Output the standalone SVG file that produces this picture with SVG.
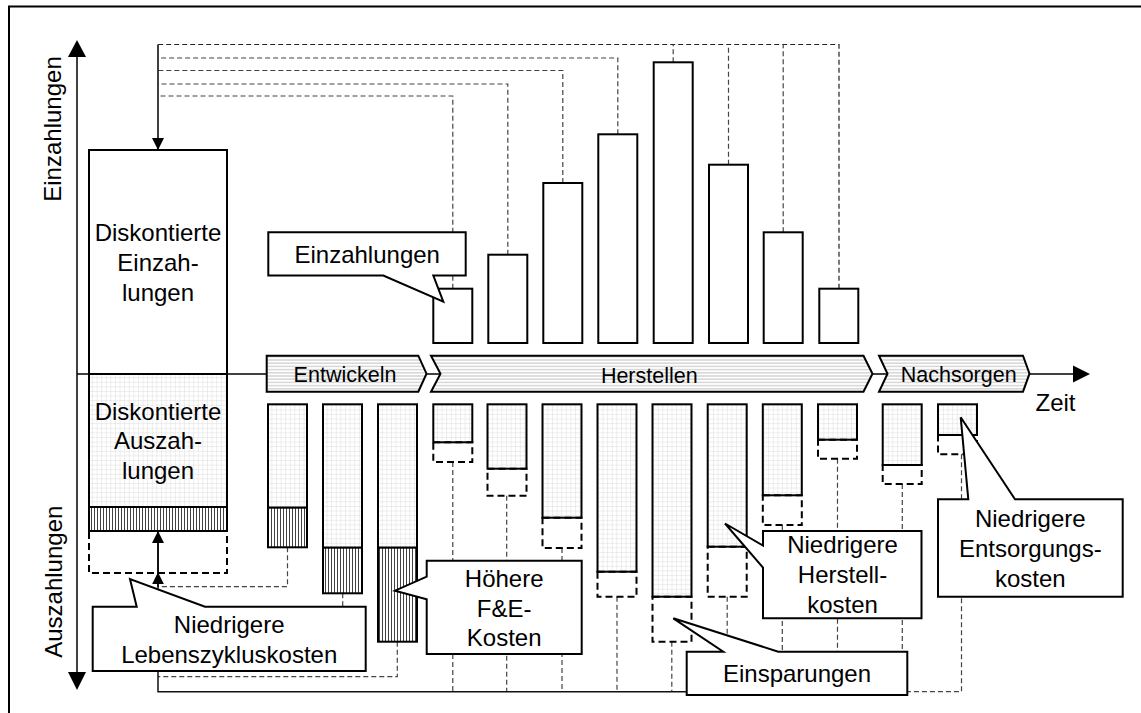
<svg xmlns="http://www.w3.org/2000/svg" width="1141" height="713" viewBox="0 0 1141 713">
  <style>
    text { font-family: "Liberation Sans", Arial, sans-serif; font-size: 24px; fill: #000; text-anchor: middle; }
    .phase { font-size: 21.5px; }
    .bar { fill: #fff; stroke: #000; stroke-width: 2; }
    .grid { fill: url(#grid); stroke: #000; stroke-width: 2; }
    .hatch { fill: url(#hatch); stroke: #000; stroke-width: 2; }
    .save { fill: none; stroke: #000; stroke-width: 2; stroke-dasharray: 7 4; }
    .link { fill: none; stroke: #444; stroke-width: 1.2; stroke-dasharray: 5 3; }
    .callout { fill: #fff; stroke: #000; stroke-width: 2; stroke-linejoin: miter; }
    .chev { fill: url(#stripes); stroke: #000; stroke-width: 2; }
    .axis { fill: none; stroke: #000; stroke-width: 1.5; }
  </style>
  <defs>
    <pattern id="grid" width="4.6" height="4.6" patternUnits="userSpaceOnUse">
      <rect width="4.6" height="4.6" fill="#fff"/>
      <path d="M0 0.3H4.6M0.3 0V4.6" stroke="#dcdcdc" stroke-width="0.6"/>
    </pattern>
    <pattern id="hatch" width="3" height="3" patternUnits="userSpaceOnUse">
      <rect width="3" height="3" fill="#fff"/>
      <path d="M1.5 0V3" stroke="#111" stroke-width="0.8"/>
    </pattern>
    <pattern id="stripes" width="4" height="3.2" patternUnits="userSpaceOnUse">
      <rect width="4" height="3.2" fill="#fff"/>
      <path d="M0 1.6H4" stroke="#9a9a9a" stroke-width="0.7"/>
    </pattern>
    <marker id="tipS" viewBox="0 0 12 12" refX="12" refY="6" markerWidth="12" markerHeight="12" markerUnits="userSpaceOnUse" orient="auto">
      <path d="M0 0L12 6L0 12z" fill="#000"/>
    </marker>
  </defs>

  <!-- frame -->
  <path d="M9 713V6.5H1141" fill="none" stroke="#000" stroke-width="2"/>

  <!-- connectors -->
  <g id="connectors">
    <!-- payments gathered into the discounted inflow -->
    <path class="link" d="M452.8 288.7V96H158"/>
    <path class="link" d="M507.8 254.7V84H158"/>
    <path class="link" d="M562.8 183V70.5H158"/>
    <path class="link" d="M617.8 134.3V58H158"/>
    <path class="link" style="stroke:#222" d="M839 288.7V44.5H158"/>
    <path class="link" d="M673.2 62.3V44.5"/>
    <path class="link" d="M728.5 164.7V44.5"/>
    <path class="link" d="M783.2 232.3V44.5"/>
    <path d="M158 44.5V150" fill="none" stroke="#000" stroke-width="1.5" marker-end="url(#tipS)"/>

    <!-- costs gathered into the discounted outflow -->
    <path class="link" d="M287.5 547.3V586.7H158"/>
    <path class="link" d="M342.7 593.3V650H158"/>
    <path class="link" d="M397.3 641.7V676.7H158"/>
    <path class="link" d="M452.8 462V691.7"/>
    <path class="link" d="M506.7 495.7V691.7"/>
    <path class="link" d="M562 548V691.7"/>
    <path class="link" d="M617 596.7V691.7"/>
    <path class="link" d="M671.8 641.7V691.7"/>
    <path class="link" d="M727.2 596.7V691.7"/>
    <path class="link" d="M782.3 525V691.7"/>
    <path class="link" d="M837.5 458.7V691.7"/>
    <path class="link" d="M902.3 484V691.7"/>
    <path class="link" d="M961.5 454.3V691.7H686"/>
    <path d="M686 691.7H158V531" fill="none" stroke="#111" stroke-width="1.5"/>
    <path d="M158 586.7V572.3" fill="none" stroke="#000" stroke-width="1.5" marker-end="url(#tipS)"/>
    <path d="M158 572.3V531" fill="none" stroke="#000" stroke-width="1.5" marker-end="url(#tipS)"/>
  </g>

  <!-- axes -->
  <g id="axes">
    <path class="axis" d="M77 56V673"/>
    <path d="M77 40L86 57H68z" fill="#000"/>
    <path d="M77 690L86 672H68z" fill="#000"/>
    <path class="axis" d="M77 374H1074"/>
    <path d="M1090 374L1073 365.5V382.5z" fill="#000"/>
    <text transform="translate(61 129) rotate(-90)">Einzahlungen</text>
    <text transform="translate(62 581.7) rotate(-90)">Auszahlungen</text>
    <text x="1055.5" y="411">Zeit</text>
  </g>

  <!-- discounted totals -->
  <g id="total-in">
    <rect class="bar" x="89" y="150" width="138" height="224"/>
    <text x="158" y="240.7">Diskontierte</text>
    <text x="158" y="270.7">Einzah-</text>
    <text x="158" y="300.7">lungen</text>
  </g>
  <g id="total-out">
    <rect class="grid" x="89" y="374" width="138" height="133"/>
    <rect class="hatch" x="89" y="507" width="138" height="24"/>
    <rect class="save" x="89" y="531" width="138" height="42"/>
    <text x="158" y="419.5">Diskontierte</text>
    <text x="158" y="449.3">Auszah-</text>
    <text x="158" y="478.5">lungen</text>
  </g>

  <!-- life-cycle phases -->
  <g id="phase-develop">
    <path class="chev" d="M266.7 355.7H418.3L426.5 373.7L418.3 391.7H266.7z"/>
    <text class="phase" x="345" y="382.3">Entwickeln</text>
  </g>
  <g id="phase-produce">
    <path class="chev" d="M431 355.7H863.5L872.5 373.7L863.5 391.7H431L440.5 373.7z"/>
    <text class="phase" x="649.3" y="383">Herstellen</text>
  </g>
  <g id="phase-dispose">
    <path class="chev" d="M879 355.7H1023L1029.5 373.7L1023 391.7H879L887.5 373.7z"/>
    <text class="phase" x="958.7" y="381.7">Nachsorgen</text>
  </g>

  <!-- payments per period -->
  <g id="inflows">
    <rect class="bar" x="433.3" y="288.7" width="39" height="54.3"/>
    <rect class="bar" x="488.3" y="254.7" width="39" height="88.3"/>
    <rect class="bar" x="543.3" y="183" width="39" height="160"/>
    <rect class="bar" x="598.3" y="134.3" width="39" height="208.7"/>
    <rect class="bar" x="653.7" y="62.3" width="39" height="280.7"/>
    <rect class="bar" x="709" y="164.7" width="39" height="178.3"/>
    <rect class="bar" x="763.7" y="232.3" width="39" height="110.7"/>
    <rect class="bar" x="819.3" y="288.7" width="39" height="54.3"/>
  </g>

  <!-- costs per period: development -->
  <g id="dev-costs">
    <rect class="grid" x="268" y="404.3" width="39" height="103.4"/>
    <rect class="hatch" x="268" y="507.7" width="39" height="39.6"/>
    <rect class="grid" x="323" y="404.3" width="39" height="143.4"/>
    <rect class="hatch" x="323" y="547.7" width="39" height="45.6"/>
    <rect class="grid" x="378" y="404.3" width="39" height="143.4"/>
    <rect class="hatch" x="378" y="547.7" width="39" height="94"/>
  </g>

  <!-- costs per period: production and disposal -->
  <g id="prod-costs">
    <rect class="grid" x="433.3" y="404.3" width="39" height="38"/>
    <rect class="save" x="433.3" y="442.3" width="39" height="19.7"/>
    <rect class="grid" x="487.5" y="404.3" width="39" height="64.4"/>
    <rect class="save" x="487.5" y="468.7" width="39" height="27"/>
    <rect class="grid" x="542.5" y="404.3" width="39" height="113.4"/>
    <rect class="save" x="542.5" y="517.7" width="39" height="30.3"/>
    <rect class="grid" x="597.5" y="404.3" width="39" height="167.4"/>
    <rect class="save" x="597.5" y="571.7" width="39" height="25"/>
    <rect class="grid" x="652.5" y="404.3" width="39" height="192.4"/>
    <rect class="save" x="652.5" y="596.7" width="39" height="45"/>
    <rect class="grid" x="707.7" y="404.3" width="39" height="142.4"/>
    <rect class="save" x="707.7" y="546.7" width="39" height="50"/>
    <rect class="grid" x="762.8" y="404.3" width="39" height="91"/>
    <rect class="save" x="762.8" y="495.3" width="39" height="29.7"/>
    <rect class="grid" x="818" y="404.3" width="39" height="35.4"/>
    <rect class="save" x="818" y="439.7" width="39" height="19"/>
  </g>
  <g id="disp-costs">
    <rect class="grid" x="882.7" y="404.3" width="39" height="60.7"/>
    <rect class="save" x="882.7" y="465" width="39" height="19"/>
    <rect class="grid" x="938" y="404.3" width="39" height="30.7"/>
    <rect class="save" x="938" y="435" width="39" height="19.3"/>
  </g>

  <!-- callouts -->
  <g id="note-inflow">
    <path class="callout" d="M268.3 232.3H465.7V275.5H433.3L443.3 301.7L383.3 275.5H268.3z"/>
    <text x="367.2" y="263.3">Einzahlungen</text>
  </g>
  <g id="note-lifecycle">
    <path class="callout" d="M92.7 606.7H136.7L130 579L205 606.7H365.7V671H92.7z"/>
    <text x="229.2" y="633.3">Niedrigere</text>
    <text x="229.2" y="662.7">Lebenszykluskosten</text>
  </g>
  <g id="note-rd">
    <path class="callout" d="M426.7 560.7H581.7V654H426.7V599.3L395 590.7L426.7 576.7z"/>
    <text x="504.2" y="586.7">Höhere</text>
    <text x="504.2" y="616.7">F&amp;E-</text>
    <text x="504.2" y="646.2">Kosten</text>
  </g>
  <g id="note-production">
    <path class="callout" d="M763 531H921.5V618.3H763V567.5L725 523.5L763 545.5z"/>
    <text x="842.5" y="553.3">Niedrigere</text>
    <text x="842.5" y="583.3">Herstell-</text>
    <text x="842.5" y="612.7">kosten</text>
  </g>
  <g id="note-savings">
    <path class="callout" d="M686.7 651.7H723.3L673.3 618.3L778.3 651.7H907.3V695H686.7z"/>
    <text x="797" y="682">Einsparungen</text>
  </g>
  <g id="note-disposal">
    <path class="callout" d="M938 499.3H968.3L960.7 417.3L1015 499.3H1122.7V596.7H938z"/>
    <text x="1030.3" y="526.7">Niedrigere</text>
    <text x="1030.3" y="556.7">Entsorgungs-</text>
    <text x="1030.3" y="586.7">kosten</text>
  </g>
</svg>
